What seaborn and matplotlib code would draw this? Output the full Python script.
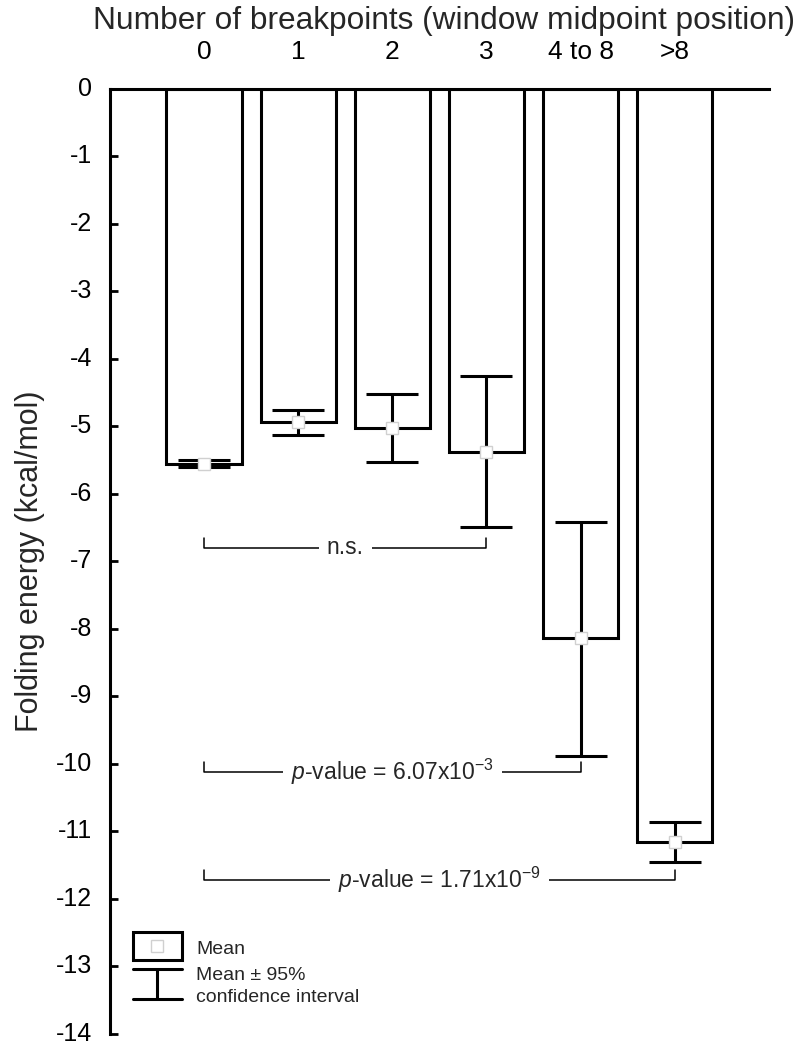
import numpy as np
import pandas as pd
import matplotlib
matplotlib.use("Agg")
import matplotlib.pyplot as plt
import matplotlib.patches as mpatches
import seaborn as sns

categories = ["0", "1", "2", "3", "4 to 8", ">8"]
mean_energy = [-5.55, -4.93, -5.02, -5.38, -8.13, -11.15]
ci_upper = [-5.50, -4.75, -4.52, -4.26, -6.41, -10.86]
ci_lower = [-5.60, -5.12, -5.53, -6.49, -9.88, -11.45]

# comparisons: (from category, to category, bracket level, label)
comparisons = [
    (0, 3, -6.80, "n.s."),
    (0, 4, -10.12, "$p$-value = 6.07x10$^{-3}$"),
    (0, 5, -11.72, "$p$-value = 1.71x10$^{-9}$"),
]

sns.set_theme(style="white")
plt.rcParams["font.family"] = ["Liberation Sans", "DejaVu Sans"]
plt.rcParams["axes.unicode_minus"] = False
plt.rcParams["mathtext.fontset"] = "custom"
plt.rcParams["mathtext.rm"] = "Liberation Sans"
plt.rcParams["mathtext.it"] = "Liberation Sans:italic"

df = pd.DataFrame({"breakpoints": categories, "energy": mean_energy})

fig = plt.figure(figsize=(8, 10.48), dpi=100)
ax = fig.add_axes([0.1375, 0.0135, 0.8235, 0.9016])

sns.barplot(data=df, x="breakpoints", y="energy", order=categories,
            color="white", edgecolor="black", linewidth=2.2, width=0.8,
            errorbar=None, ax=ax)

x = np.arange(len(categories))
mean_arr = np.array(mean_energy)
yerr = np.vstack([mean_arr - np.array(ci_lower), np.array(ci_upper) - mean_arr])
ax.errorbar(x, mean_arr, yerr=yerr, fmt="none", ecolor="black",
            elinewidth=2.2, capsize=19, capthick=2.2, zorder=3)
ax.plot(x, mean_arr, ls="none", marker="s", markersize=8,
        markerfacecolor="white", markeredgecolor="#d0d0d0",
        markeredgewidth=1.0, zorder=4)

for i0, i1, level, label in comparisons:
    tick = 0.15
    ax.plot([i0, i0, i1, i1], [level + tick, level, level, level + tick],
            color="black", lw=1.1, zorder=2)
    ax.text((i0 + i1) / 2, level, label, ha="center", va="center",
            fontsize=16.5, zorder=5,
            bbox=dict(facecolor="white", edgecolor="none", pad=6))

ax.set_xlim(-1, 6)
ax.set_ylim(-14, 0)
ax.set_yticks(np.arange(0, -15, -1))
ax.set_yticklabels([str(v) for v in range(0, -15, -1)], va="center")
ax.xaxis.tick_top()
ax.set_xticks(x)
ax.set_xticklabels(categories)
ax.set_xlabel("")
ax.set_ylabel("Folding energy (kcal/mol)", fontsize=22, labelpad=8)
ax.tick_params(axis="x", direction="in", length=6, width=2, pad=18,
               labelsize=19, top=True, bottom=False, colors="black")
ax.tick_params(axis="y", direction="in", length=6, width=2, pad=13,
               labelsize=18, left=True, colors="black")
for side in ["right", "bottom"]:
    ax.spines[side].set_visible(False)
for side in ["top", "left"]:
    ax.spines[side].set_visible(True)
    ax.spines[side].set_linewidth(2.2)
    ax.spines[side].set_color("black")

fig.text(0.555, 1 - 29 / 1048, "Number of breakpoints (window midpoint position)",
         ha="center", va="baseline", fontsize=22.8)

# legend key drawn by hand in axes fraction
tr = ax.transAxes
ax.add_patch(mpatches.Rectangle((0.035, 0.078), 0.074, 0.030, transform=tr,
                                facecolor="white", edgecolor="black", lw=2.2,
                                clip_on=False, zorder=5))
ax.plot([0.072], [0.093], transform=tr, marker="s", markersize=8,
        markerfacecolor="white", markeredgecolor="#d0d0d0", markeredgewidth=1.0,
        clip_on=False, zorder=6)
ax.plot([0.035, 0.109], [0.0686, 0.0686], transform=tr, color="black", lw=2.2, clip_on=False)
ax.plot([0.035, 0.109], [0.0369, 0.0369], transform=tr, color="black", lw=2.2, clip_on=False)
ax.plot([0.072, 0.072], [0.0369, 0.0686], transform=tr, color="black", lw=2.2, clip_on=False)
ax.text(0.1305, 0.0897, "Mean", transform=tr, fontsize=14, va="center")
ax.text(0.1305, 0.0622, "Mean \u00b1 95%", transform=tr, fontsize=14, va="center")
ax.text(0.1305, 0.038, "confidence interval", transform=tr, fontsize=14, va="center")

fig.savefig("out.png", dpi=100)
